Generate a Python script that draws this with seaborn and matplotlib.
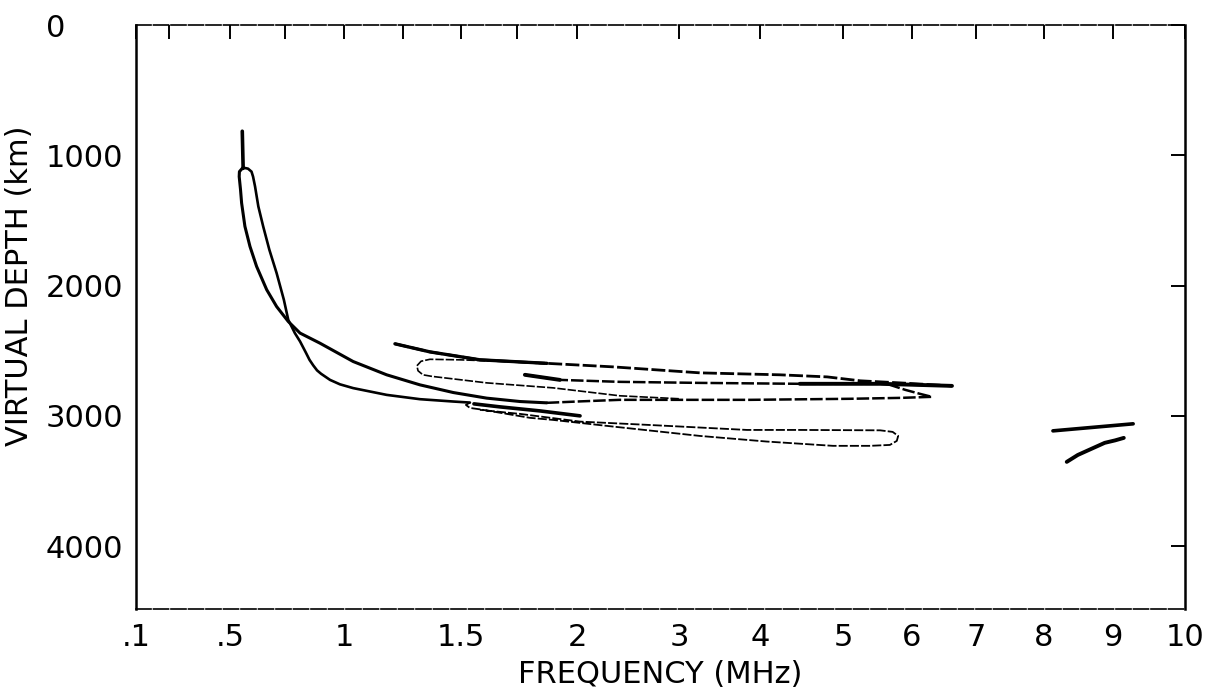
import numpy as np
import matplotlib
matplotlib.use("Agg")
import matplotlib.pyplot as plt
import seaborn as sns

# ---------------- axis definitions ----------------
freq_ticks = [0.1, 0.5, 1, 1.5, 2, 3, 4, 5, 6, 7, 8, 9, 10]
freq_tick_labels = [".1", ".5", "1", "1.5", "2", "3", "4", "5", "6", "7", "8", "9", "10"]
freq_minor_ticks = [0.25, 0.75, 1.25, 1.75]
depth_ticks = [0, 1000, 2000, 3000, 4000]
depth_tick_labels = ["0", "1000", "2000", "3000", "4000"]

# ionogram frequency scale: graduation frequencies and their relative spacing
scale_freq = [0.1, 0.25, 0.5, 0.75, 1, 1.25, 1.5, 1.75, 2, 3, 4, 5, 6, 7, 8, 9, 10]
scale_rel = [0, 33, 94, 149, 208, 267, 325, 381, 441, 543, 624, 707, 776, 840, 908, 977, 1049]

# ---------------- traces (frequency MHz, virtual depth km) ----------------
spike_freq = [0.556, 0.560]
spike_depth = [815, 1100]

# left / upper branch from the low-frequency cusp
upper_branch_freq = [0.559, 0.543, 0.542, 0.548, 0.553, 0.568, 0.591, 0.621, 0.667, 0.712,
                     0.764, 0.814, 0.898, 1.039, 1.181, 1.323, 1.467, 1.615, 1.763, 1.874]
upper_branch_depth = [1094, 1125, 1163, 1263, 1366, 1545, 1699, 1852, 2031, 2160,
                      2275, 2364, 2441, 2582, 2684, 2761, 2820, 2863, 2889, 2899]

# continuation of the upper branch to 6.3 MHz with the nose back
branch3_freq = [1.874, 2.03, 2.42, 3.01, 3.88, 5.10, 5.83, 6.31, 6.125, 5.90, 5.68]
branch3_depth = [2899, 2888, 2876, 2876, 2876, 2868, 2861, 2853, 2830, 2799, 2761]

# right / lower branch from the cusp
lower_branch_freq = [0.559, 0.582, 0.598, 0.605, 0.614, 0.629, 0.651, 0.679, 0.712, 0.745,
                     0.764, 0.792, 0.814, 0.839, 0.854, 0.870, 0.886, 0.903, 0.941, 0.983,
                     1.039, 1.181, 1.323, 1.467, 1.540]
lower_branch_depth = [1094, 1102, 1125, 1163, 1238, 1392, 1545, 1724, 1903, 2108,
                      2262, 2364, 2428, 2515, 2569, 2612, 2650, 2676, 2723, 2757,
                      2786, 2838, 2871, 2889, 2897]

# small hook at 1.5 MHz and the long loop to 5.8 MHz
loop_freq = [1.540, 1.522, 1.540, 1.585, 1.804, 1.900, 2.353, 3.26, 4.08, 4.88, 5.39,
             5.68, 5.78, 5.80, 5.72, 5.54, 4.48, 3.84, 2.69, 2.03, 1.763, 1.585]
loop_depth = [2897, 2915, 2938, 2949, 3014, 3030, 3081, 3153, 3196, 3229, 3229,
              3222, 3191, 3153, 3122, 3110, 3107, 3107, 3068, 3043, 2984, 2953]

short_freq = [1.558, 1.674, 1.846, 2.03]
short_depth = [2907, 2930, 2961, 2999]

# top trace starting at 1.2 MHz
top_freq = [1.216, 1.366, 1.585, 1.875, 2.353, 3.26, 4.24, 4.81, 5.25, 5.83, 6.625]
top_depth = [2446, 2508, 2569, 2596, 2623, 2669, 2684, 2700, 2730, 2746, 2769]

second_freq = [1.783, 1.929, 2.42, 3.26, 4.48, 5.54, 6.625]
second_depth = [2684, 2723, 2738, 2746, 2753, 2753, 2769]

# small loop at 1.3 MHz
cloop_freq = [1.875, 1.674, 1.496, 1.366, 1.328, 1.310, 1.315, 1.336, 1.375, 1.616,
              1.90, 2.42, 3.01]
cloop_depth = [2600, 2580, 2569, 2565, 2580, 2615, 2653, 2684, 2696, 2746,
               2784, 2845, 2868]

# high-frequency fragments near 8-9 MHz
hf_upper_freq = [8.13, 8.71, 9.28]
hf_upper_depth = [3114, 3087, 3060]
hf_lower_freq = [8.33, 8.49, 8.67, 8.88, 9.03, 9.15]
hf_lower_depth = [3352, 3299, 3256, 3206, 3187, 3168]

# ---------------- figure ----------------
sns.set_style("white")
plt.rcParams["font.family"] = ["DejaVu Sans"]

fig = plt.figure(figsize=(12.16, 6.93), dpi=100)
ax = fig.add_axes([0.1118, 0.1212, 0.8627, 0.8427])


def fwd(f):
    return np.interp(f, scale_freq, scale_rel)


def inv(p):
    return np.interp(p, scale_rel, scale_freq)


ax.set_xscale("function", functions=(fwd, inv))

solid = "-"
faint = (0, (5, 1.2))

traces = [
    (spike_freq, spike_depth, 2.6, solid),
    (upper_branch_freq, upper_branch_depth, 2.2, solid),
    (branch3_freq, branch3_depth, 1.8, faint),
    (lower_branch_freq, lower_branch_depth, 1.9, solid),
    (loop_freq, loop_depth, 1.3, faint),
    (short_freq, short_depth, 2.6, solid),
    (top_freq, top_depth, 2.0, faint),
    (top_freq[:4], top_depth[:4], 2.4, solid),
    (second_freq, second_depth, 1.8, faint),
    (second_freq[:2], second_depth[:2], 2.8, solid),
    (second_freq[-3:], second_depth[-3:], 2.8, solid),
    (cloop_freq, cloop_depth, 1.2, faint),
    (hf_upper_freq, hf_upper_depth, 2.6, solid),
    (hf_lower_freq, hf_lower_depth, 2.8, solid),
]
for fx, dy, lw, ls in traces:
    sns.lineplot(x=fx, y=dy, ax=ax, color="black", lw=lw, linestyle=ls,
                 sort=False, estimator=None, solid_capstyle="round")

ax.set_xlim(0.1, 10)
ax.set_ylim(4481, 0)

ax.set_xticks(freq_ticks, freq_tick_labels)
ax.set_xticks(freq_minor_ticks, minor=True)
ax.set_yticks(depth_ticks, depth_tick_labels)

ax.tick_params(which="both", direction="in", top=True, right=True,
               length=10, width=1.4, color="black", labelsize=22,
               labelcolor="black")
ax.tick_params(axis="x", which="both", pad=10)
# y labels are left-aligned in a column left of the axis
ax.tick_params(axis="y", which="both", pad=65)
for lab in ax.get_yticklabels():
    lab.set_horizontalalignment("left")

for side in ["left", "right"]:
    ax.spines[side].set_color("black")
    ax.spines[side].set_linewidth(1.8)
for side in ["top", "bottom"]:
    ax.spines[side].set_color("black")
    ax.spines[side].set_linewidth(1.2)
    ax.spines[side].set_linestyle((0, (9, 1.5)))

ax.set_xlabel("FREQUENCY (MHz)", fontsize=22, color="black", labelpad=6)
ax.set_ylabel("VIRTUAL DEPTH (km)", fontsize=22, color="black")
ax.yaxis.set_label_coords(-0.097, 0.553)
ax.grid(False)

fig.savefig("out.png", dpi=100, facecolor="white")
